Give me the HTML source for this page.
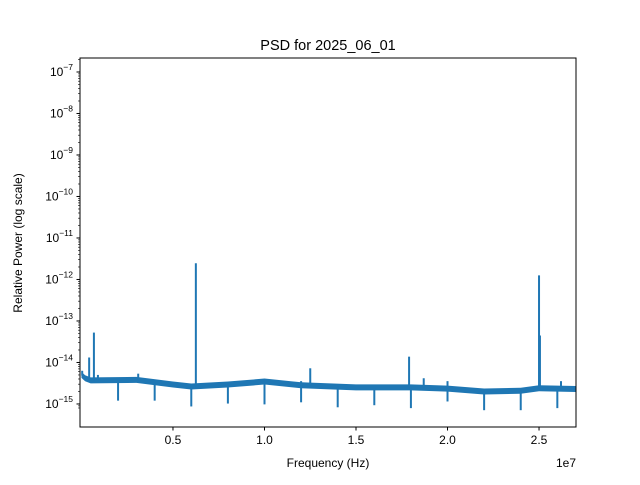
<!DOCTYPE html>
<html><head><meta charset="utf-8"><style>
body{margin:0;background:#fff;width:640px;height:480px;overflow:hidden}
svg{font-family:"Liberation Sans","DejaVu Sans",sans-serif}
</style></head><body>
<svg id="c" width="640" height="480" viewBox="0 0 640 480"></svg>
<script>
// data (x in units of 1e7 Hz, y as log10 of relative power)
const baseX = [0, 0.02, 0.05, 0.3, 0.5, 0.6, 0.8, 1.0, 1.2, 1.5, 1.8, 2.0, 2.2, 2.4, 2.5, 2.7];
const baseLog = [-14.3, -14.38, -14.43, -14.42, -14.53, -14.58, -14.53, -14.46, -14.55, -14.6, -14.6, -14.63, -14.7, -14.68, -14.62, -14.64];
const upX = [0.004, 0.042, 0.068, 0.09, 0.31, 0.625, 1.2, 1.25, 1.79, 1.87, 2.0, 2.5, 2.505, 2.62];
const upLog = [-14.2, -13.88, -13.28, -14.3, -14.27, -11.61, -14.45, -14.14, -13.86, -14.38, -14.45, -11.9, -13.35, -14.45];
const downX = [0.2, 0.4, 0.6, 0.8, 1.0, 1.2, 1.4, 1.6, 1.8, 2.0, 2.2, 2.4, 2.6];
const downLog = [-14.92, -14.92, -15.06, -14.99, -15.01, -14.96, -15.08, -15.03, -15.1, -14.94, -15.15, -15.15, -15.1];
const yTicks = [-15, -14, -13, -12, -11, -10, -9, -8, -7];
const xTicks = [0.5, 1.0, 1.5, 2.0, 2.5];

const L=80,R=576,T=58,B=427;
const xMin=-0.008,xMax=2.702,yMin=-15.555,yMax=-6.663;
const sx=v=>L+(v-xMin)/(xMax-xMin)*(R-L);
const sy=v=>B-(v-yMin)/(yMax-yMin)*(B-T);
const svg=document.getElementById('c');
const NS='http://www.w3.org/2000/svg';
function mk(t,a,txt){const e=document.createElementNS(NS,t);for(const k in a)e.setAttribute(k,a[k]);if(txt!=null)e.textContent=txt;svg.appendChild(e);return e;}
function interp(x){for(let i=0;i<baseX.length-1;i++){if(x<=baseX[i+1]){const t=(x-baseX[i])/(baseX[i+1]-baseX[i]);return baseLog[i]+t*(baseLog[i+1]-baseLog[i]);}}return baseLog[baseLog.length-1];}

const clip=mk('clipPath',{id:'cp'});
const cr=document.createElementNS(NS,'rect');cr.setAttribute('x',L);cr.setAttribute('y',T);cr.setAttribute('width',R-L);cr.setAttribute('height',B-T);clip.appendChild(cr);

const g=document.createElementNS(NS,'g');g.setAttribute('clip-path','url(#cp)');svg.appendChild(g);


let up='',lo='';
for(let i=0;i<baseX.length;i++){up+=(i?'L':'M')+sx(baseX[i])+','+(sy(baseLog[i])-3);}
for(let i=baseX.length-1;i>=0;i--){lo+='L'+sx(baseX[i])+','+(sy(baseLog[i])+3);}
const band=document.createElementNS(NS,'path');band.setAttribute('d',up+lo+'Z');band.setAttribute('fill','#1f77b4');


g.appendChild(band);
function spike(x,v,name){const l=document.createElementNS(NS,'line');l.setAttribute('x1',sx(x));l.setAttribute('x2',sx(x));l.setAttribute('y1',sy(interp(x)));l.setAttribute('y2',sy(v));l.setAttribute('stroke','#1f77b4');l.setAttribute('stroke-width','2');


g.appendChild(l);}
upX.forEach((x,i)=>spike(x,upLog[i],'spike-up'));
downX.forEach((x,i)=>spike(x,downLog[i],'spike-down'));

const fr=mk('rect',{x:L,y:T,width:R-L,height:B-T,fill:'none',stroke:'#000','stroke-width':1});


yTicks.forEach(v=>{const y=sy(v);mk('line',{x1:L-3.5,x2:L,y1:y,y2:y,stroke:'#000'});
const t=mk('text',{x:L-7,y:y+4,'text-anchor':'end','font-size':'12'});


t.textContent='10';const s=document.createElementNS(NS,'tspan');s.setAttribute('dy','-6');s.setAttribute('font-size','8.5');s.textContent='\u2212'+(-v);t.appendChild(s);
for(let k=2;k<10;k++){const ym=sy(v+Math.log10(k));if(ym>T&&ym<B)mk('line',{x1:L-2,x2:L,y1:ym,y2:ym,stroke:'#000','stroke-width':0.6});}});
{const ym0=sy(-16+Math.log10(9)),ym1=sy(-16+Math.log10(8));[ym0,ym1].forEach(ym=>{if(ym<B)mk('line',{x1:L-2,x2:L,y1:ym,y2:ym,stroke:'#000','stroke-width':0.6});});}
xTicks.forEach(v=>{const x=sx(v);mk('line',{x1:x,x2:x,y1:B,y2:B+3.5,stroke:'#000'});
const t=mk('text',{x:x,y:B+17,'text-anchor':'middle','font-size':'12'},v.toFixed(1));

});
const ex=mk('text',{x:576,y:467,'text-anchor':'end','font-size':'12'},'1e7');


const xt=mk('text',{x:328,y:467,'text-anchor':'middle','font-size':'12'},'Frequency (Hz)');


const yt=mk('text',{x:22,y:243,'text-anchor':'middle','font-size':'12',transform:'rotate(-90 22 243)'},'Relative Power (log scale)');


const ti=mk('text',{x:328,y:50,'text-anchor':'middle','font-size':'14.5'},'PSD for 2025_06_01');


</script>
</body></html>
